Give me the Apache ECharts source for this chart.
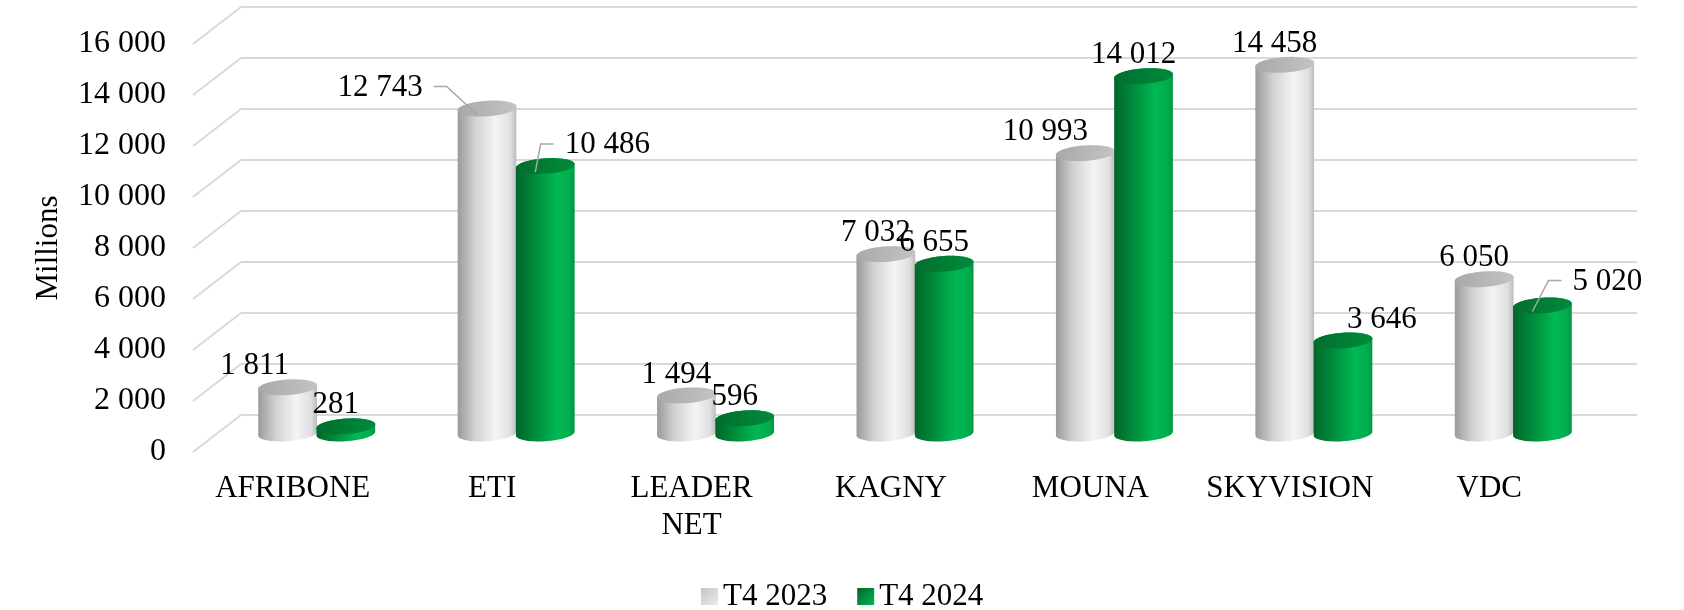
<!DOCTYPE html>
<html>
<head>
    <meta charset="utf-8">
    <title>T4 2023 / T4 2024</title>
    <script src="https://cdn.jsdelivr.net/npm/echarts@6/dist/echarts.min.js"></script>
    <style>
        html, body { margin: 0; padding: 0; background: #fff; }
        #main { width: 1684px; height: 610px; }
    </style>
</head>
<body>
<div id="main"></div>
<script>
    // data
    const categories = ['AFRIBONE', 'ETI', 'LEADER NET', 'KAGNY', 'MOUNA', 'SKYVISION', 'VDC'];
    const seriesNames = ['T4 2023', 'T4 2024'];
    const values2023 = [1811, 12743, 1494, 7032, 10993, 14458, 6050];
    const values2024 = [281, 10486, 596, 6655, 14012, 3646, 5020];
    const yMin = 0, yMax = 16000, yStep = 2000;

    const FONT = '"Liberation Serif", "Times New Roman", serif';
    const DX = 48, DY = 37;            // depth of the 3D box (front -> back)
    const front = { left: 193, right: 95, top: 44, bottom: 158 };

    // label nudges (Excel moved some labels aside)
    const nudge = {
        '0-0': { dx: -33 },
        '0-1': { dx: -107, leader: true },
        '1-1': { dx: 62, leader: true },
        '0-4': { dx: -40 },
        '1-5': { dx: 39 },
        '1-6': { dx: 65, dy: -24, leader: true }
    };

    const fmt = v => String(v).replace(/\B(?=(\d{3})+(?!\d))/g, ' ');
    const ctx = document.createElement('canvas').getContext('2d');
    ctx.font = '31px ' + FONT;

    const ticks = [];
    for (let v = yMin; v <= yMax; v += yStep) ticks.push(v);

    const grad = (stops) => new echarts.graphic.LinearGradient(0, 0, 1, 0,
        stops.map(s => ({ offset: s[0], color: s[1] })));
    const bodyColors = [
        [[0, '#9a9a9a'], [0.3, '#d2d2d2'], [0.65, '#f4f4f4'], [0.9, '#dfdfdf'], [1, '#bcbcbc']],
        [[0, '#00662a'], [0.3, '#00883a'], [0.7, '#00b853'], [0.9, '#00ae4e'], [1, '#009843']]
    ];
    const topColors = [
        [[0, '#a9a9a9'], [1, '#c3c3c3']],
        [[0, '#006f2e'], [1, '#008a3b']]
    ];

    function ellipse(cx, cy, r, a, b, t0, t1, n) {
        const pts = [];
        for (let i = 0; i <= n; i++) {
            const t = t0 + (t1 - t0) * i / n;
            pts.push([cx + r * Math.cos(t) + a * Math.sin(t), cy - b * Math.sin(t)]);
        }
        return pts;
    }

    function cylinder(si) {
        return function (params, api) {
            const idx = api.value(0), val = api.value(1);
            const base = api.coord([idx, 0]);
            const top = api.coord([idx, val]);
            const band = api.size([1, 0])[0];
            const cx = base[0] + (si === 0 ? -1 : 1) * band * 0.146;
            const r = band * 0.143, a = 7, b = 8;
            const t0 = Math.atan2(a, r);
            const bottomArc = ellipse(cx, base[1], r, a, b, t0, t0 - Math.PI, 30);
            const topArc = ellipse(cx, top[1], r, a, b, t0 + Math.PI, t0, 30);
            const children = [
                { type: 'polygon', shape: { points: bottomArc.concat(topArc) },
                  style: { fill: grad(bodyColors[si]) } },
                { type: 'polygon', shape: { points: ellipse(cx, top[1], r, a, b, 0, Math.PI * 2, 48) },
                  style: { fill: grad(topColors[si]) } }
            ];
            const nd = nudge[si + '-' + params.dataIndex] || {};
            const text = fmt(val);
            const lx = cx + (nd.dx !== undefined ? nd.dx : -10);
            const ly = top[1] + (nd.dy !== undefined ? nd.dy : -21);
            children.push({
                type: 'text',
                style: { text: text, x: lx, y: ly, fill: '#000', font: '31px ' + FONT,
                         align: 'center', verticalAlign: 'middle' }
            });
            if (nd.leader) {
                const w = ctx.measureText(text).width;
                const side = lx < cx ? 1 : -1;
                const x0 = lx + side * (w / 2 + 11);
                children.push({
                    type: 'polyline',
                    shape: { points: [[x0, ly - 1], [x0 + side * 13, ly - 1], [cx - 10, top[1] + 6]] },
                    style: { stroke: '#a6a6a6', lineWidth: 1.5, fill: null }
                });
            }
            return { type: 'group', children: children };
        };
    }

    const chart = echarts.init(document.getElementById('main'));
    const catAxis = (gi, show) => ({
        type: 'category', gridIndex: gi, data: categories, show: show,
        axisLine: { show: false }, axisTick: { show: false },
        axisLabel: {
            show: show, interval: 0, margin: 18, fontFamily: FONT, fontSize: 31, color: '#000',
            lineHeight: 37, formatter: v => v.replace(' ', '\n')
        }
    });

    chart.setOption({
        animation: false,
        grid: [
            // mid plane: the bars
            { left: front.left + DX / 2, right: front.right - DX / 2, top: front.top - DY / 2, bottom: front.bottom + DY / 2 },
            // front plane: axis labels
            { left: front.left, right: front.right, top: front.top, bottom: front.bottom },
            // back wall: gridlines
            { left: front.left + DX, right: front.right - DX, top: front.top - DY, bottom: front.bottom + DY }
        ],
        xAxis: [catAxis(0, false), catAxis(1, true), catAxis(2, false)],
        yAxis: [
            { type: 'value', gridIndex: 0, min: yMin, max: yMax, interval: yStep, show: false },
            {
                type: 'value', gridIndex: 1, min: yMin, max: yMax, interval: yStep,
                name: 'Millions', nameLocation: 'middle', nameRotate: 90, nameGap: 129,
                nameTextStyle: { fontFamily: FONT, fontSize: 31, color: '#000' },
                axisLine: { show: false }, axisTick: { show: false }, splitLine: { show: false },
                axisLabel: { margin: 27, fontFamily: FONT, fontSize: 32, color: '#000', formatter: fmt }
            },
            {
                type: 'value', gridIndex: 2, min: yMin, max: yMax, interval: yStep,
                axisLine: { show: false }, axisTick: { show: false }, axisLabel: { show: false },
                splitLine: { show: true, lineStyle: { color: '#d9d9d9', width: 2 } }
            }
        ],
        legend: {
            left: 696, top: 576, icon: 'rect', itemWidth: 17, itemHeight: 17, itemGap: 30,
            textStyle: { fontFamily: FONT, fontSize: 31, color: '#000' },
            data: [
                { name: seriesNames[0], itemStyle: { color: new echarts.graphic.LinearGradient(0, 0, 1, 1,
                    [{ offset: 0, color: '#c4c4c4' }, { offset: 1, color: '#ececec' }]) } },
                { name: seriesNames[1], itemStyle: { color: new echarts.graphic.LinearGradient(0, 0, 1, 1,
                    [{ offset: 0, color: '#006428' }, { offset: 1, color: '#00b853' }]) } }
            ]
        },
        series: [
            {
                type: 'custom', xAxisIndex: 2, yAxisIndex: 2, z: 1, silent: true,
                data: ticks.map(v => [0, v]),
                renderItem: (params, api) => {
                    const y = api.coord([0, api.value(1)])[1];
                    const x = params.coordSys.x;
                    return { type: 'line', shape: { x1: x - DX, y1: y + DY, x2: x, y2: y },
                             style: { stroke: '#d9d9d9', lineWidth: 2 } };
                }
            },
            {
                name: seriesNames[0], type: 'custom', xAxisIndex: 0, yAxisIndex: 0, z: 5,
                itemStyle: { color: '#d9d9d9' },
                data: values2023.map((v, i) => [i, v]),
                renderItem: cylinder(0)
            },
            {
                name: seriesNames[1], type: 'custom', xAxisIndex: 0, yAxisIndex: 0, z: 5,
                itemStyle: { color: '#00a04a' },
                data: values2024.map((v, i) => [i, v]),
                renderItem: cylinder(1)
            }
        ]
    });
</script>
</body>
</html>
